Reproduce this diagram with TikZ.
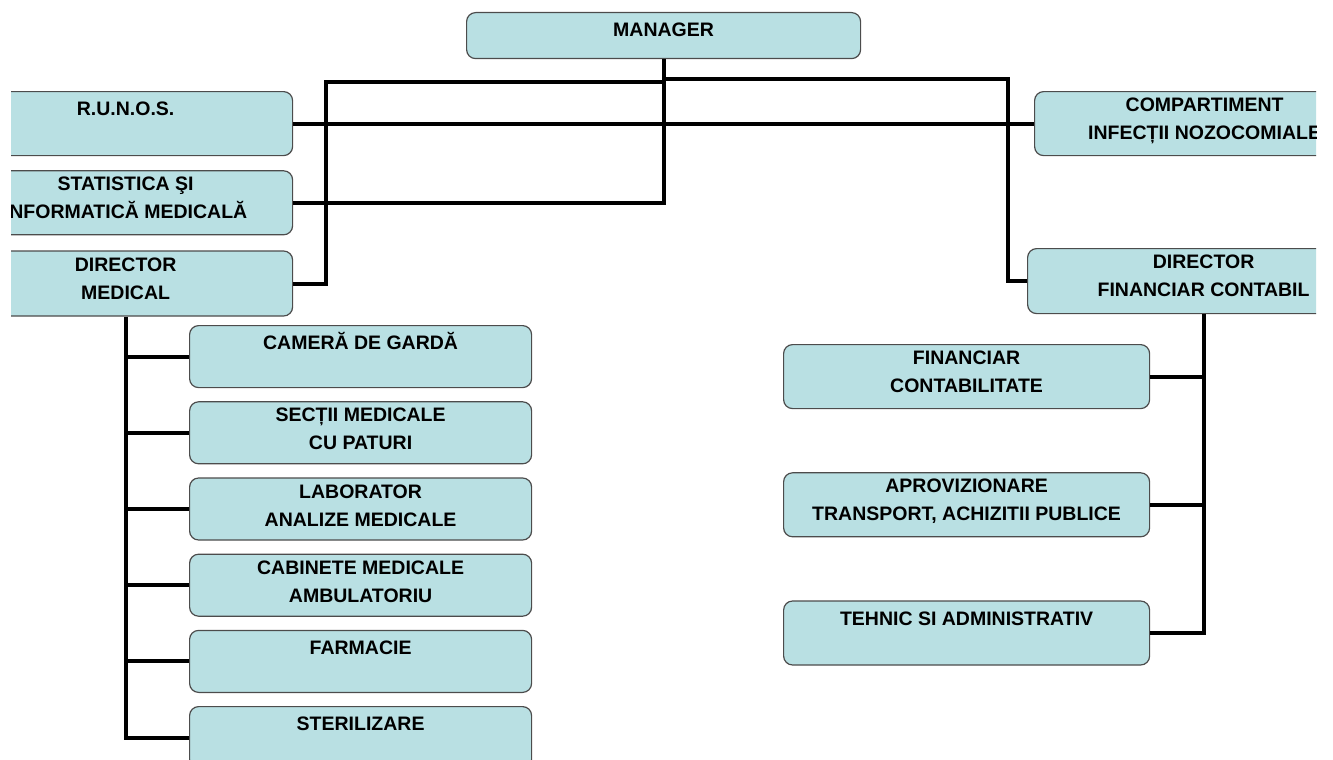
\documentclass[tikz,border=0pt]{standalone}
\usepackage{fontspec}
\setmainfont{Liberation Sans}
\usepackage{xcolor}
\usepackage{tikz}
\usetikzlibrary{positioning}
\definecolor{unitfill}{RGB}{185,224,227}

\begin{document}
\begin{tikzpicture}[
  x=1pt, y=-1pt,
  unit/.style={draw=black!70, rounded corners=9pt, line width=1.2pt, fill=unitfill, anchor=north west, inner sep=0pt, minimum height=63pt},
  title/.style={anchor=north, inner sep=0pt, align=center, yshift=-4.9pt, font=\bfseries\fontsize{19.5}{28}\selectfont},
  titletwo/.style={anchor=north, inner sep=0pt, align=center, yshift=-0.9pt, font=\bfseries\fontsize{19.5}{28}\selectfont},
  link/.style={line width=4pt, black}
]
\useasboundingbox (0,0) rectangle (1333,760);
\clip (11,0) rectangle (1316,760);

\node[unit, minimum width=394pt, minimum height=46pt, label={[title]north:{\strut MANAGER}}] (manager) at (466,12) {};

\node[unit, minimum width=334pt, minimum height=64pt, label={[title]north:{\strut R.U.N.O.S.}}] (runos) at (-42,91) {};
\node[unit, minimum width=334pt, minimum height=64pt, below=14pt of runos, label={[titletwo]north:{\strut STATISTICA ŞI\\INFORMATICĂ MEDICALĂ}}] (stat) {};
\node[unit, minimum width=334pt, minimum height=65pt, below=15pt of stat, label={[titletwo]north:{\strut DIRECTOR\\MEDICAL}}] (dirmed) {};

\node[unit, minimum width=340pt, minimum height=64pt, label={[titletwo]north:{\strut COMPARTIMENT\\INFECȚII NOZOCOMIALE}}] (comp) at (1034,91) {};
\node[unit, minimum width=352pt, minimum height=65pt, label={[titletwo]north:{\strut DIRECTOR\\FINANCIAR CONTABIL}}] (dirfin) at (1027,248) {};

\node[unit, minimum width=342pt, minimum height=62pt, label={[title]north:{\strut CAMERĂ DE GARDĂ}}] (camera) at (189,325) {};
\node[unit, minimum width=342pt, minimum height=62pt, below=13pt of camera, label={[titletwo]north:{\strut SECȚII MEDICALE\\CU PATURI}}] (sectii) {};
\node[unit, minimum width=342pt, minimum height=62pt, below=13pt of sectii, label={[titletwo]north:{\strut LABORATOR\\ANALIZE MEDICALE}}] (lab) {};
\node[unit, minimum width=342pt, minimum height=62pt, below=13pt of lab, label={[titletwo]north:{\strut CABINETE MEDICALE\\AMBULATORIU}}] (cab) {};
\node[unit, minimum width=342pt, minimum height=62pt, below=13pt of cab, label={[title]north:{\strut FARMACIE}}] (farm) {};
\node[unit, minimum width=342pt, minimum height=62pt, below=13pt of farm, label={[title]north:{\strut STERILIZARE}}] (steril) {};

\node[unit, minimum width=366pt, minimum height=64pt, label={[titletwo]north:{\strut FINANCIAR\\CONTABILITATE}}] (financiar) at (783,344) {};
\node[unit, minimum width=366pt, minimum height=64pt, below=63pt of financiar, label={[titletwo]north:{\strut APROVIZIONARE\\TRANSPORT, ACHIZITII PUBLICE}}] (aprov) {};
\node[unit, minimum width=366pt, minimum height=64pt, below=63pt of aprov, label={[title]north:{\strut TEHNIC SI ADMINISTRATIV}}] (tehnic) {};

\coordinate (lbar) at (326,82);
\coordinate (rbar) at (1008,79);

\draw[link] (manager.south) |- (stat.east);
\draw[link] (dirmed.east) -| (lbar) -- (lbar -| manager.south);
\draw[link] (dirfin.west) -| (rbar) -- (rbar -| manager.south);
\draw[link] (runos.east) -- (comp.west);

\draw[link] (dirmed.south) |- (steril.west);
\foreach \u in {camera,sectii,lab,cab,farm}
  \draw[link] (dirmed.south |- \u.west) -- (\u.west);

\draw[link] (dirfin.south) |- (tehnic.east);
\foreach \u in {financiar,aprov}
  \draw[link] (dirfin.south |- \u.east) -- (\u.east);

\end{tikzpicture}
\end{document}
